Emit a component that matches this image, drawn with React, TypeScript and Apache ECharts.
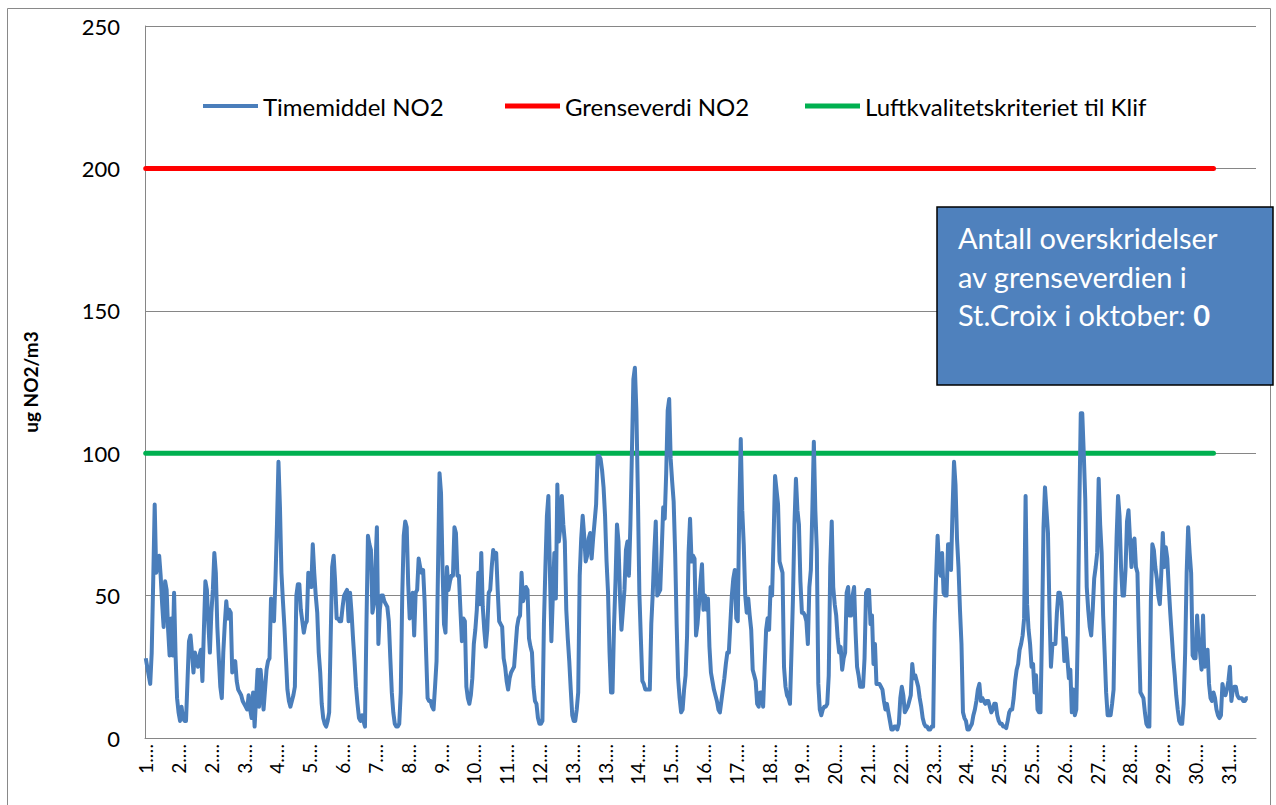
import React, { useEffect, useRef } from "react";
import * as echarts from "echarts";

const xTickLabels = ["1", "2", "2", "3", "4", "5", "6", "7", "8", "9", "10", "11", "12", "13", "13", "14", "15", "16", "17", "18", "19", "20", "21", "22", "23", "24", "25", "25", "26", "27", "28", "29", "30", "31"];
const categoryCount = 745;
const labelStep = 22;

const hourlyNO2 = [
  28, 25, 22, 19, 30, 55, 82, 58, 62, 64, 57, 47, 39, 55, 52, 38, 29, 42, 29, 51, 29, 14, 9, 6,
  11, 7, 6, 6, 20, 34, 36, 30, 23, 30, 27, 25, 29, 31, 20, 38, 55, 52, 40, 30, 44, 52, 65, 58,
  39, 28, 18, 14, 30, 40, 48, 42, 45, 44, 23, 25, 27, 20, 17, 16, 15, 13, 12, 11, 10, 15, 10, 7,
  16, 4, 14, 24, 11, 24, 18, 10, 17, 24, 27, 28, 49, 45, 41, 56, 75, 97, 81, 58, 48, 39, 28, 17,
  13, 11, 13, 15, 18, 50, 54, 54, 45, 41, 37, 40, 41, 58, 55, 53, 68, 58, 50, 44, 30, 23, 12, 7,
  5, 4, 6, 9, 35, 60, 64, 55, 42, 42, 41, 41, 46, 50, 51, 52, 41, 51, 44, 35, 27, 18, 12, 7,
  6, 8, 6, 4, 40, 71, 68, 66, 44, 47, 60, 74, 33, 45, 50, 50, 48, 47, 46, 41, 28, 16, 9, 5,
  4, 4, 5, 16, 50, 71, 76, 74, 54, 42, 45, 51, 36, 51, 52, 63, 60, 58, 59, 48, 30, 14, 13, 13,
  11, 10, 18, 27, 60, 93, 86, 60, 40, 37, 60, 52, 55, 57, 57, 74, 72, 57, 57, 45, 34, 42, 41, 18,
  14, 12, 15, 21, 33, 38, 45, 58, 47, 65, 46, 38, 32, 38, 51, 52, 60, 66, 63, 65, 52, 41, 40, 39,
  28, 25, 20, 17, 21, 23, 24, 25, 32, 39, 42, 43, 58, 48, 50, 53, 52, 35, 32, 30, 18, 13, 12, 7,
  5, 5, 6, 40, 60, 78, 85, 59, 34, 50, 65, 49, 89, 69, 74, 85, 75, 69, 45, 35, 27, 17, 8, 6,
  6, 10, 16, 57, 70, 78, 71, 62, 64, 70, 72, 63, 70, 76, 82, 99, 99, 98, 94, 88, 78, 62, 51, 30,
  16, 16, 39, 55, 75, 69, 50, 38, 45, 52, 66, 69, 57, 75, 100, 126, 130, 115, 86, 51, 35, 20, 19, 17,
  17, 17, 17, 40, 51, 65, 76, 50, 51, 52, 66, 81, 77, 93, 115, 119, 98, 90, 83, 65, 40, 21, 14, 9,
  10, 17, 22, 36, 65, 77, 62, 64, 63, 36, 40, 47, 55, 61, 45, 50, 45, 49, 32, 23, 20, 17, 15, 13,
  10, 9, 13, 17, 21, 26, 30, 30, 40, 50, 56, 59, 42, 41, 80, 105, 80, 68, 50, 44, 49, 43, 38, 24,
  22, 20, 12, 11, 16, 16, 11, 25, 38, 42, 38, 53, 50, 70, 92, 87, 82, 62, 60, 58, 25, 18, 15, 14,
  12, 30, 49, 75, 91, 80, 75, 55, 44, 44, 43, 41, 33, 53, 59, 80, 104, 80, 66, 19, 10, 8, 10, 11,
  11, 12, 22, 60, 76, 53, 47, 43, 35, 30, 32, 24, 28, 30, 51, 53, 43, 43, 50, 53, 37, 25, 22, 18,
  18, 18, 28, 51, 52, 52, 40, 43, 26, 33, 19, 19, 19, 18, 17, 13, 10, 12, 9, 6, 3, 3, 4, 4,
  3, 5, 14, 18, 15, 9, 10, 11, 13, 15, 26, 21, 22, 20, 18, 14, 11, 7, 5, 4, 4, 3, 3, 4,
  4, 40, 57, 71, 60, 57, 65, 51, 50, 50, 68, 68, 59, 80, 97, 89, 70, 60, 45, 33, 9, 7, 6, 3,
  3, 4, 5, 8, 10, 13, 17, 19, 13, 14, 13, 12, 13, 13, 11, 9, 10, 12, 12, 8, 6, 5, 5, 4,
  4, 3.5, 6, 9, 10, 10, 14, 20, 24, 26, 31, 33, 36, 42, 85, 47, 38, 33, 25, 26, 16, 22, 10, 9,
  9, 37, 74, 88, 80, 72, 45, 25, 33, 33, 33, 44, 51, 51, 48, 38, 27, 35, 28, 21, 24, 9, 17, 8,
  10, 37, 80, 114, 114, 100, 84, 53, 45, 39, 36, 45, 56, 60, 65, 91, 75, 65, 43, 30, 16, 8, 8, 8,
  12, 17, 49, 70, 85, 78, 60, 50, 50, 59, 76, 80, 70, 60, 69, 70, 60, 58, 35, 16, 15, 14, 9, 5,
  4, 4, 48, 68, 66, 60, 56, 50, 47, 58, 72, 60, 67, 63, 53, 44, 36, 28, 22, 15, 10, 6, 5, 5,
  12, 30, 58, 74, 65, 58, 29, 28, 28, 43, 34, 30, 24, 43, 25, 28, 31, 19, 14, 13, 16, 14, 10, 8,
  7, 8, 19, 16, 15, 17, 20, 25, 13, 17, 18, 18, 15, 14, 14, 14, 13, 13, 14, 14,
];

const limitValue = 200;
const klifValue = 100;
const limitEndIndex = 716;
const yMin = 0;
const yMax = 250;
const yInterval = 50;

const seriesNames = ["Timemiddel NO2", "Grenseverdi NO2", "Luftkvalitetskriteriet til Klif"];
const legendLefts = [198, 500, 800];
const boxLines = ["Antall overskridelser", "av grenseverdien i", "St.Croix i oktober: "];
const boxCount = "0";

const FONT = "Lato, 'Open Sans', sans-serif";

export default function App() {
  const ref = useRef<HTMLDivElement>(null);

  useEffect(() => {
    document.body.style.margin = "0";
    if (!ref.current) return;
    const chart = echarts.init(ref.current, undefined, { renderer: "svg" });
    const categories = Array.from({ length: categoryCount }, (_, i) => String(i));

    chart.setOption({
      animation: false,
      backgroundColor: "#ffffff",
      grid: { left: 145, top: 26, right: 20, bottom: 67, containLabel: false },
      legend: seriesNames.map((name, i) => ({
        data: [name],
        left: legendLefts[i],
        top: 89,
        icon: "rect",
        itemWidth: 55,
        itemHeight: i === 0 ? 4 : 5,
        textStyle: { fontSize: 24, fontFamily: FONT, color: "#000" },
      })),
      xAxis: {
        type: "category",
        data: categories,
        boundaryGap: true,
        axisLine: { show: true, lineStyle: { color: "#868686", width: 1 } },
        axisTick: { show: false },
        axisLabel: {
          interval: labelStep - 1,
          rotate: 90,
          fontSize: 19,
          fontFamily: FONT,
          color: "#000",
          margin: 6,
          formatter: (_v: string, idx: number) => xTickLabels[Math.round(idx / labelStep)] + ".…",
        },
        splitLine: { show: false },
      },
      yAxis: {
        type: "value",
        min: yMin,
        max: yMax,
        interval: yInterval,
        axisLine: { show: true, lineStyle: { color: "#868686", width: 1 } },
        axisTick: { show: false },
        axisLabel: { fontSize: 22, fontFamily: FONT, color: "#000", margin: 25 },
        splitLine: { show: true, lineStyle: { color: "#868686", width: 1 } },
      },
      series: [
        {
          name: seriesNames[0],
          type: "line",
          data: hourlyNO2,
          symbol: "none",
          z: 4,
          lineStyle: { color: "#4A7EBB", width: 4, join: "round" },
          itemStyle: { color: "#4A7EBB" },
        },
        {
          name: seriesNames[1],
          type: "line",
          data: [[0, limitValue], [limitEndIndex, limitValue]],
          symbol: "none",
          z: 2,
          lineStyle: { color: "#FF0000", width: 5, cap: "round" },
          itemStyle: { color: "#FF0000" },
        },
        {
          name: seriesNames[2],
          type: "line",
          data: [[0, klifValue], [limitEndIndex, klifValue]],
          symbol: "none",
          z: 2,
          lineStyle: { color: "#00B050", width: 5, cap: "round" },
          itemStyle: { color: "#00B050" },
        },
      ],
      graphic: [
        {
          type: "rect",
          shape: { x: 7.5, y: 8.5, width: 1263, height: 830 },
          style: { fill: "none", stroke: "#898989", lineWidth: 1 },
          silent: true,
        },
        {
          type: "text",
          x: 30,
          y: 382,
          rotation: Math.PI / 2,
          style: {
            text: "ug NO2/m3",
            fontSize: 19,
            fontWeight: "bold",
            fontFamily: FONT,
            fill: "#000",
            align: "center",
            verticalAlign: "middle",
            textAlign: "center",
            textVerticalAlign: "middle",
          },
        },
        {
          type: "rect",
          shape: { x: 937, y: 207, width: 336, height: 178 },
          style: { fill: "#4F81BD", stroke: "#000", lineWidth: 1.5 },
          z: 10,
        },
        {
          type: "text",
          x: 958,
          y: 218,
          z: 11,
          style: {
            text: boxLines[0] + "\n" + boxLines[1] + "\n" + boxLines[2] + "{b|" + boxCount + "}",
            fontSize: 29,
            fontFamily: FONT,
            fill: "#fff",
            lineHeight: 38.7,
            align: "left",
            verticalAlign: "top",
            textAlign: "left",
            textVerticalAlign: "top",
            rich: {
              b: { fontSize: 29, fontFamily: FONT, fontWeight: "bold", fill: "#fff", lineHeight: 38.7 },
            },
          },
        },
      ],
    });

    return () => chart.dispose();
  }, []);

  return <div ref={ref} style={{ width: 1276, height: 805 }} />;
}
